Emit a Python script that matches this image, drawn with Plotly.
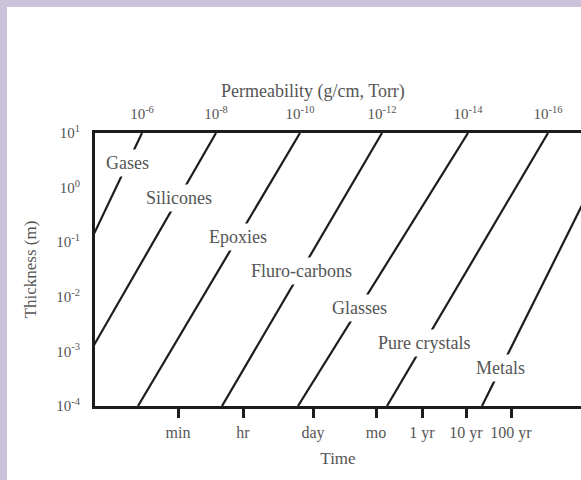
import numpy as np
import plotly.graph_objects as go

# ---------------- data ----------------
materials = ["Gases", "Silicones", "Epoxies", "Fluro-carbons", "Glasses", "Pure crystals", "Metals"]
# horizontal position (chart units, 0 = left axis) of each line at thickness 10 m and at 1e-4 m
line_x_top = [47, 121, 205, 287, 373, 453, 523]
line_x_bottom = [-83, -36, 43, 127, 203, 292, 387]
# thickness (m) at which each label sits on its line
label_thickness = [2.82, 0.646, 0.124, 0.0297, 0.00624, 0.00143, 0.000497]

time_labels = ["min", "hr", "day", "mo", "1 yr", "10 yr", "100 yr"]
time_pos = [83, 148, 218, 281, 327, 371, 416]

perm_exponents = [-6, -8, -10, -12, -14, -16]
perm_pos = [47, 121, 205, 287, 373, 453]

thick_exponents = [1, 0, -1, -2, -3, -4]
thick_range = [-4, 1]
x_range = [0, 486]

# ---------------- style ----------------
FONT = "Liberation Serif, Times New Roman, serif"
TXT = "#555555"
INK = "#1c1c1c"
LAV = "#cbc3d9"
W, H = 581, 480
ML, MR, MT, MB = 95, 0, 133, 74

fig = go.Figure()

for name, xt, xb in zip(materials, line_x_top, line_x_bottom):
    fig.add_trace(go.Scatter(
        x=[xt, xb], y=[10.0 ** thick_range[1], 10.0 ** thick_range[0]],
        mode="lines", line=dict(color=INK, width=2.2),
        hoverinfo="skip", showlegend=False, name=name))

# invisible trace to anchor the top axis
fig.add_trace(go.Scatter(x=[perm_pos[0]], y=[1.0], xaxis="x2", mode="markers",
                         marker=dict(opacity=0), showlegend=False, hoverinfo="skip"))

# labels sit on their lines, with a white box that breaks the line
for name, xt, xb, th in zip(materials, line_x_top, line_x_bottom, label_thickness):
    ly = np.log10(th)
    frac = (thick_range[1] - ly) / (thick_range[1] - thick_range[0])
    lx = xt + (xb - xt) * frac
    fig.add_annotation(x=lx, y=ly, xref="x", yref="y", text=name, showarrow=False,
                       xanchor="center", yanchor="middle", bgcolor="white", borderpad=3,
                       font=dict(family=FONT, size=18, color=TXT))

pw = W - ML - MR
ph = H - MT - MB
def px(p):
    return (p - ML) / pw
def py(p):
    return (H - MB - p) / ph

# lavender frame (top and left bands)
fig.add_shape(type="rect", xref="paper", yref="paper", x0=px(0), x1=px(W + 5), y0=py(7), y1=py(-2),
              fillcolor=LAV, line=dict(width=0), layer="below")
fig.add_shape(type="rect", xref="paper", yref="paper", x0=px(-2), x1=px(7), y0=py(H + 2), y1=py(-2),
              fillcolor=LAV, line=dict(width=0), layer="below")

# top-axis title
fig.add_annotation(x=px(313), y=py(91), xref="paper", yref="paper", text="Permeability (g/cm, Torr)",
                   showarrow=False, xanchor="center", yanchor="middle",
                   font=dict(family=FONT, size=18, color=TXT))

fig.update_layout(
    width=W, height=H,
    margin=dict(l=ML, r=MR, t=MT, b=MB, pad=0),
    paper_bgcolor="white", plot_bgcolor="white",
    showlegend=False,
    font=dict(family=FONT, color=TXT),
    xaxis=dict(range=x_range, showgrid=False, zeroline=False,
               showline=True, linecolor=INK, linewidth=3,
               tickmode="array", tickvals=time_pos, ticktext=time_labels,
               ticks="outside", ticklen=9, tickwidth=3, tickcolor=INK,
               ticklabelstandoff=1,
               tickfont=dict(family=FONT, size=16, color=TXT),
               title=dict(text="Time", standoff=11, font=dict(family=FONT, size=17, color=TXT))),
    xaxis2=dict(range=x_range, overlaying="x", side="top", showgrid=False, zeroline=False,
                showline=True, linecolor=INK, linewidth=3,
                tickmode="array", tickvals=perm_pos,
                ticktext=["10<sup>%d</sup>" % e for e in perm_exponents],
                ticks="", ticklabelstandoff=5,
                tickfont=dict(family=FONT, size=15, color=TXT)),
    yaxis=dict(type="log", range=thick_range, showgrid=False, zeroline=False,
               showline=True, linecolor=INK, linewidth=3,
               tickmode="array", tickvals=[10.0 ** e for e in thick_exponents],
               ticktext=["10<sup>%d</sup>" % e for e in thick_exponents],
               ticks="", ticklabelstandoff=9,
               tickfont=dict(family=FONT, size=15, color=TXT),
               title=dict(text="Thickness (m)", standoff=16, font=dict(family=FONT, size=17, color=TXT))),
)

fig.write_html("out.html")
